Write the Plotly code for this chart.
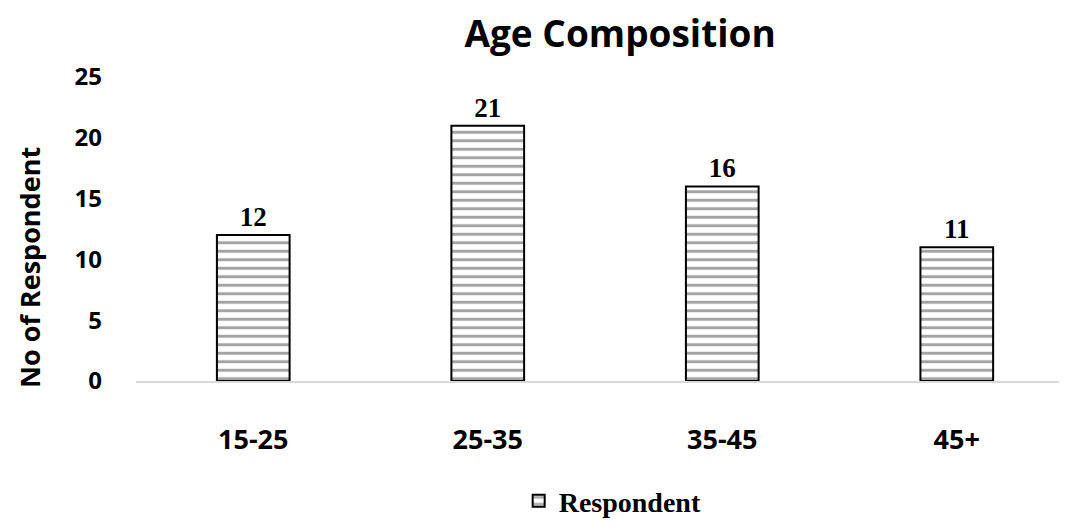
import plotly.graph_objects as go

categories = ["15-25", "25-35", "35-45", "45+"]
respondents = [12, 21, 16, 11]
y_ticks = [0, 5, 10, 15, 20, 25]

fig = go.Figure()
fig.add_trace(go.Bar(
    x=categories,
    y=respondents,
    name="Respondent",
    width=0.31,
    text=[str(v) for v in respondents],
    textposition="outside",
    textfont=dict(family="Liberation Serif", size=27, color="black", weight="bold"),
    cliponaxis=False,
    marker=dict(
        color="white",
        line=dict(color="black", width=2),
        pattern=dict(shape="-", fgcolor="#4a4a4a", bgcolor="white", size=8.5, solidity=0.35, fillmode="overlay"),
    ),
))

fig.update_layout(
    width=1059, height=518,
    paper_bgcolor="white", plot_bgcolor="white",
    margin=dict(l=128, r=0, t=69, b=145, autoexpand=False),
    title=dict(text="Age Composition", x=0.578, xanchor="center", y=0.949, yanchor="middle",
               font=dict(family="Open Sans", size=37, color="black", weight="bold")),
    showlegend=True,
    legend=dict(orientation="h", x=0.512, xanchor="center", y=-145 / 304, yanchor="bottom",
                font=dict(family="Liberation Serif", size=28, color="black", weight="bold"),
                itemwidth=30),
    annotations=[dict(
        text="No of Respondent", textangle=-90, xref="paper", yref="paper",
        x=(21 - 128) / 931, y=(373 - 260) / 304, xanchor="center", yanchor="middle",
        showarrow=False, font=dict(family="Open Sans", size=27, color="black", weight="bold"),
    )],
)
fig.update_xaxes(
    range=[-0.5, 3.47], showline=True, linecolor="#d9d9d9", linewidth=2,
    showgrid=False, ticks="", ticklabelstandoff=34,
    tickfont=dict(family="Open Sans", size=27, color="black", weight="bold"),
)
fig.update_yaxes(
    range=[0, 25], tickvals=y_ticks, showgrid=False, zeroline=False, showline=False,
    ticks="", ticklabelstandoff=33,
    tickfont=dict(family="Open Sans", size=24, color="black", weight="bold"),
)
fig.write_html("out.html")
